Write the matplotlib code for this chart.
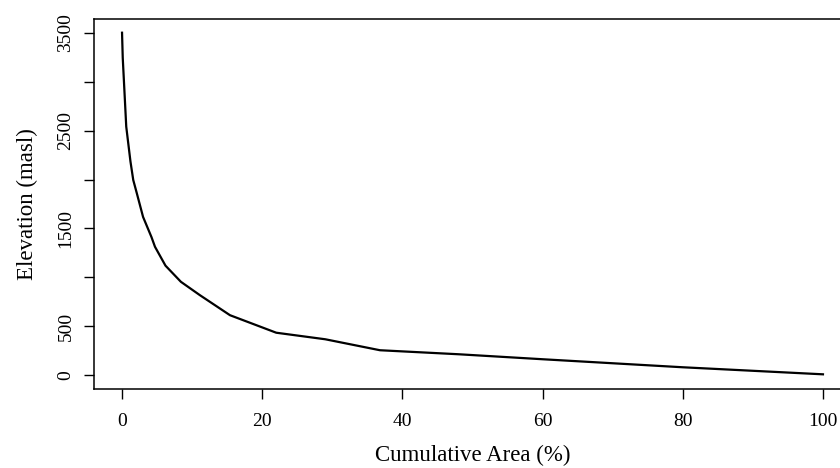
import matplotlib.pyplot as plt

# hypsometric curve
cum_area = [0, 0.1, 0.6, 1.2, 1.6, 2.1, 3.0, 4.2, 4.7, 6.2, 8.4, 11.1,
            15.4, 22.0, 29.0, 36.8, 48, 60, 80, 100]
elevation = [3500, 3244, 2540, 2185, 1995, 1862, 1618, 1412, 1313, 1120, 955, 819,
             614, 435, 368, 256, 215, 164, 82, 10]

x_ticks = [0, 20, 40, 60, 80, 100]
y_ticks = [0, 500, 1000, 1500, 2000, 2500, 3000, 3500]
y_tick_labels = ["0", "500", "", "1500", "", "2500", "", "3500"]

plt.rcParams['font.family'] = ['Liberation Serif', 'DejaVu Serif']

fig = plt.figure(figsize=(8.4, 4.68), dpi=100)
# R style box, right edge runs past the figure
ax = fig.add_axes([94 / 840, 1 - 389 / 468, 757 / 840, 370 / 468])
ax.plot(cum_area, elevation, color="black", linewidth=1.6)

ax.set_xlim(-4, 104)
ax.set_ylim(-140, 3640)
ax.set_xticks(x_ticks)
ax.set_yticks(y_ticks)
ax.set_yticklabels(y_tick_labels, rotation=90, va="center")
ax.tick_params(direction="out", length=7, width=1, labelsize=14, pad=10,
               colors="black")
ax.tick_params(axis="y", pad=7)
for s in ax.spines.values():
    s.set_linewidth(1.1)

ax.set_xlabel("Cumulative Area (%)", fontsize=16.5, labelpad=11)
ax.set_ylabel("Elevation (masl)", fontsize=16.5, labelpad=14)

fig.savefig("out.png", dpi=100)
